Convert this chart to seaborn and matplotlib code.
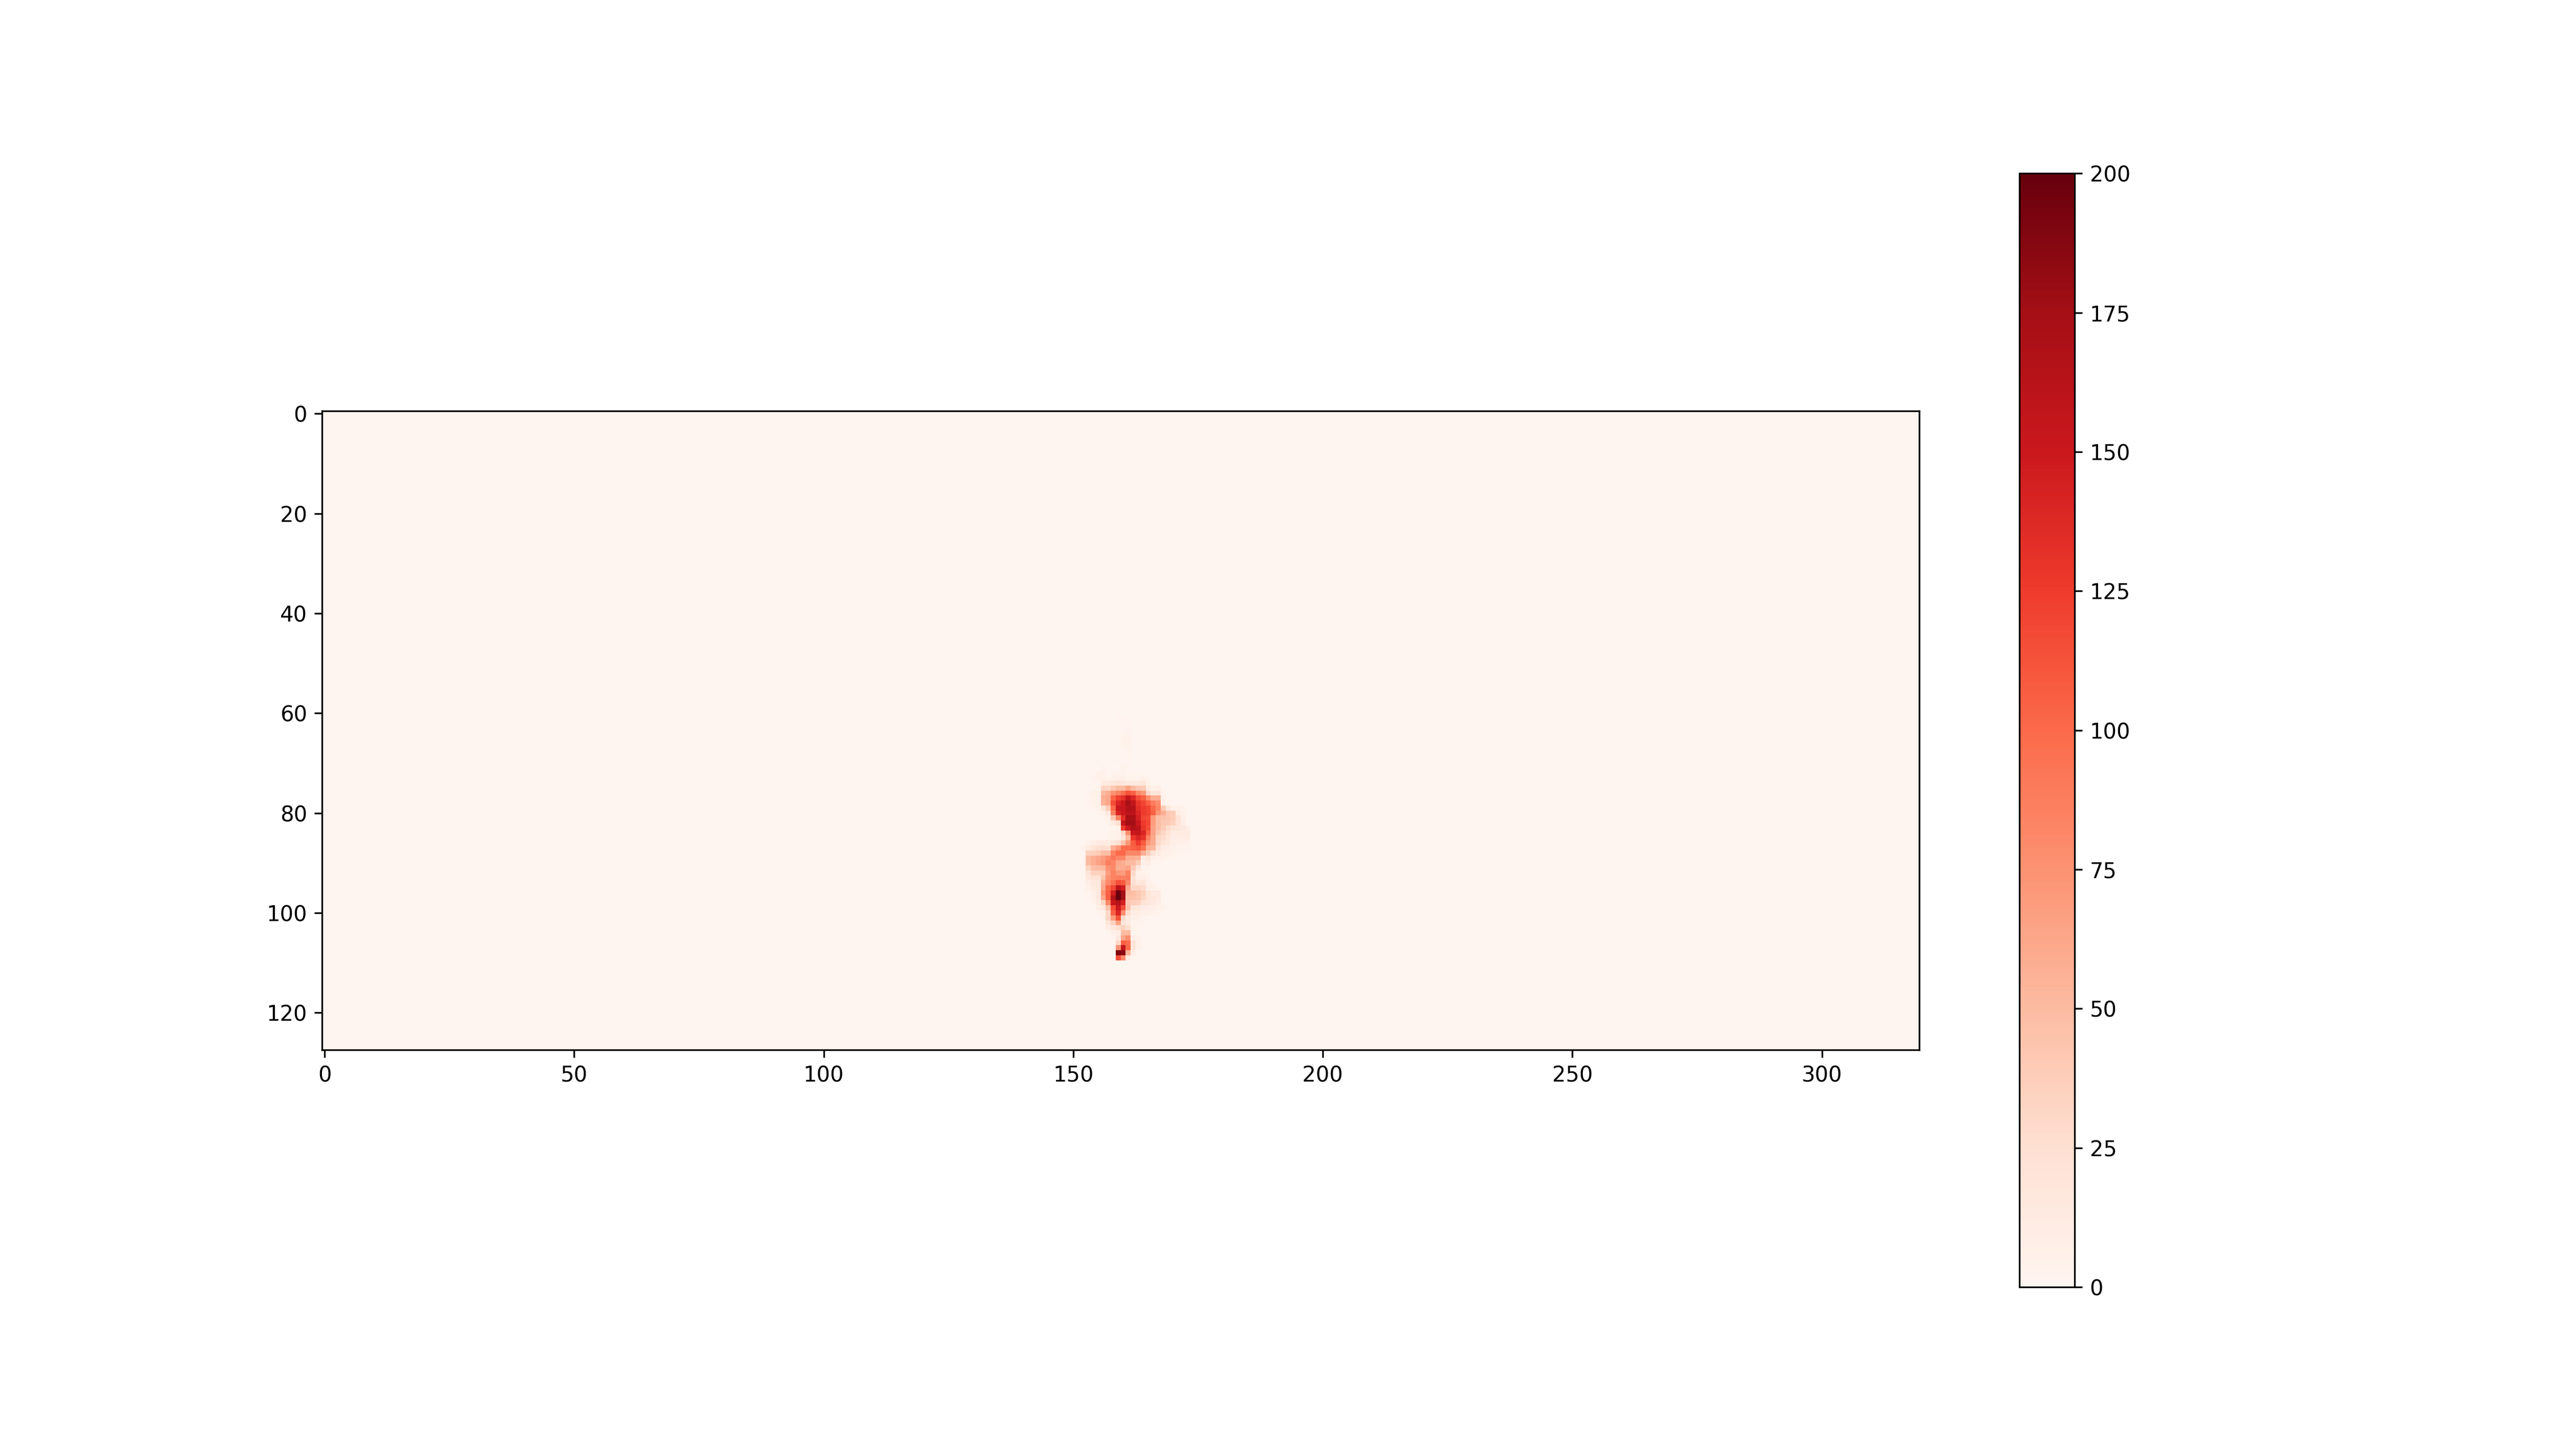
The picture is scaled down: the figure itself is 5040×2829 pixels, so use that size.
import numpy as np
import seaborn as sns
import matplotlib.pyplot as plt

# grid size of the map
n_rows = 128
n_cols = 320

x_ticks = [0, 50, 100, 150, 200, 250, 300]
y_ticks = [0, 20, 40, 60, 80, 100, 120]
cbar_ticks = [0, 25, 50, 75, 100, 125, 150, 175, 200]

# values, every row starts at column 152
first_col = 152
plume_first_row = 60
plume_rows = [
    [0, 0, 0, 0, 0, 0, 0, 1.5, 0, 0],
    [0, 0, 0, 0, 0, 0, 0, 1.5, 1.5, 1],
    [0, 0, 0, 0, 0, 0, 0, 1.5, 1.5, 1],
    [0, 0, 0, 0, 0, 0, 0, 0, 1.5, 1.5],
    [0, 0, 0, 0, 0, 0, 0, 0, 2, 3],
    [0, 0, 0, 0, 0, 0, 0, 0, 4, 4],
    [0, 0, 0, 0, 0, 0, 0, 0, 4, 4],
    [0, 0, 0, 0, 0, 0, 0, 0, 2, 3],
    [0, 0, 0, 0, 0, 0, 0, 0, 1, 2],
    [0, 0, 0, 0, 0, 0, 0, 1, 2, 3],
    [0, 0, 0, 0, 0, 0, 1, 1, 1, 1],
    [0, 0, 0, 0, 4, 0, 0, 0, 4, 1],
]

blob_first_row = 72
blob_rows = [
    [0, 1, 1, 5, 5, 2, 2, 2, 4, 2, 2, 2, 2],
    [0, 0, 3, 6, 6, 3, 4, 5, 5, 3, 3, 3, 5, 4],
    [0, 0, 2, 2, 12, 13, 15, 19, 15, 14, 14, 14, 17, 7],
    [0, 0, 2, 3, 33, 32, 42, 50, 50, 65, 50, 42, 40, 14, 5, 8],
    [0, 2, 5, 7, 50, 58, 75, 85, 97, 112, 105, 80, 72, 30, 18, 20, 4],
    [0, 2, 4, 6, 58, 62, 103, 122, 133, 155, 140, 115, 105, 78, 58, 58, 5, 3],
    [0, 2, 4, 6, 55, 62, 115, 140, 150, 172, 155, 130, 120, 105, 88, 78, 5, 3],
    [0, 1, 2, 4, 18, 38, 100, 150, 152, 165, 165, 135, 125, 120, 100, 82, 40, 15, 7, 6, 4],
    [0, 0, 0, 2, 5, 15, 85, 140, 150, 160, 160, 140, 125, 120, 105, 72, 58, 42, 38, 12, 5],
    [0, 0, 0, 0, 2, 6, 42, 85, 135, 172, 172, 145, 120, 115, 70, 48, 45, 42, 38, 22, 6],
    [0, 0, 0, 0, 0, 3, 14, 27, 155, 175, 175, 150, 125, 118, 68, 48, 42, 40, 35, 22, 8],
    [0, 0, 0, 0, 0, 1, 3, 6, 125, 150, 168, 160, 130, 115, 65, 48, 38, 28, 20, 18, 15, 8],
    [0, 0, 0, 0, 1, 3, 4, 6, 30, 78, 150, 155, 140, 105, 65, 42, 32, 22, 12, 12, 12, 12],
    [0, 0, 1, 1, 2, 3, 4, 6, 18, 50, 128, 140, 130, 85, 62, 32, 28, 18, 10, 10, 10, 10],
    [1, 4, 8, 12, 12, 12, 15, 25, 45, 72, 108, 125, 108, 72, 60, 30, 20, 15, 8, 6, 6, 6],
    [5, 12, 18, 25, 28, 25, 58, 72, 98, 100, 105, 110, 95, 55, 52, 22, 10, 8, 5, 3, 3, 3, 3],
    [1, 35, 35, 40, 48, 48, 85, 100, 100, 82, 82, 82, 58, 38, 22, 12, 6, 5, 4, 2, 2, 2],
    [1, 50, 58, 62, 68, 80, 92, 82, 82, 58, 58, 55, 12, 18, 8, 5, 4, 3, 2],
    [1, 50, 58, 65, 72, 88, 82, 62, 58, 50, 50, 38, 5, 10, 3, 3, 2],
    [1, 33, 48, 50, 52, 75, 80, 58, 60, 65, 40, 18, 3, 3],
    [1, 20, 35, 35, 38, 68, 85, 72, 68, 85, 30, 6, 4, 3],
    [1, 15, 22, 22, 45, 75, 85, 88, 85, 88, 22, 8, 8, 4],
    [1, 8, 15, 15, 58, 80, 95, 115, 108, 80, 25, 16, 18, 5, 3],
    [0, 5, 12, 15, 62, 100, 118, 160, 145, 60, 30, 32, 28, 8, 5, 3],
    [0, 2, 8, 14, 72, 105, 145, 197, 175, 50, 48, 42, 35, 18, 12, 12],
    [0, 1, 4, 15, 62, 105, 165, 200, 175, 45, 45, 42, 32, 20, 15, 12],
    [0, 1, 3, 12, 32, 82, 150, 165, 145, 42, 38, 35, 22, 18, 14, 10, 2],
    [0, 0, 1, 8, 14, 45, 115, 150, 115, 45, 18, 16, 10, 8, 8, 6, 4],
    [0, 0, 0, 3, 5, 30, 105, 140, 78, 25, 10, 10, 6, 6, 4, 3],
    [0, 0, 0, 0, 3, 32, 70, 112, 28, 12, 5, 5, 3],
    [0, 0, 0, 0, 1, 20, 35, 65, 18, 13, 3, 3, 3],
    [0, 0, 0, 0, 1, 10, 15, 25, 35, 25, 3, 2],
    [0, 0, 0, 0, 0, 3, 6, 10, 50, 50, 3, 2],
    [0, 0, 0, 0, 0, 1, 3, 15, 62, 78, 8, 4],
    [0, 0, 0, 0, 0, 1, 2, 30, 105, 98, 20, 5],
    [0, 0, 0, 0, 0, 1, 3, 75, 155, 100, 20, 5],
    [0, 0, 0, 0, 0, 0, 2, 190, 185, 55, 10],
    [0, 0, 0, 0, 0, 0, 0, 115, 80, 12, 2],
]

# fill the full grid from the rows above
grid = np.zeros((n_rows, n_cols))
for start, rows in [(plume_first_row, plume_rows), (blob_first_row, blob_rows)]:
    for i, row in enumerate(rows):
        grid[start + i, first_col:first_col + len(row)] = row

fig = plt.figure(figsize=(16.8, 9.43), dpi=300)
ax = fig.add_axes([0.12506, 0.2738, 0.62, 0.44186])
cax = fig.add_axes([0.7839, 0.11, 0.02155, 0.77])

sns.heatmap(grid, cmap='Reds', vmin=0, vmax=200, ax=ax, cbar_ax=cax,
            xticklabels=False, yticklabels=False)

# heatmap puts cells between integers, ticks go to the cell centres
ax.set_xticks(np.array(x_ticks) + 0.5, labels=x_ticks, rotation=0)
ax.set_yticks(np.array(y_ticks) + 0.5, labels=y_ticks, rotation=0)
ax.tick_params(length=3.5, width=0.8, labelsize=10, left=True, bottom=True)
for spine in ax.spines.values():
    spine.set_visible(True)
    spine.set_linewidth(0.8)
    spine.set_color('black')

cbar = ax.collections[0].colorbar
cbar.set_ticks(cbar_ticks)
cbar.outline.set_linewidth(0.8)
cbar.outline.set_edgecolor('black')
cax.tick_params(length=3.5, width=0.8, labelsize=10)

fig.savefig('out.png', dpi=300)
